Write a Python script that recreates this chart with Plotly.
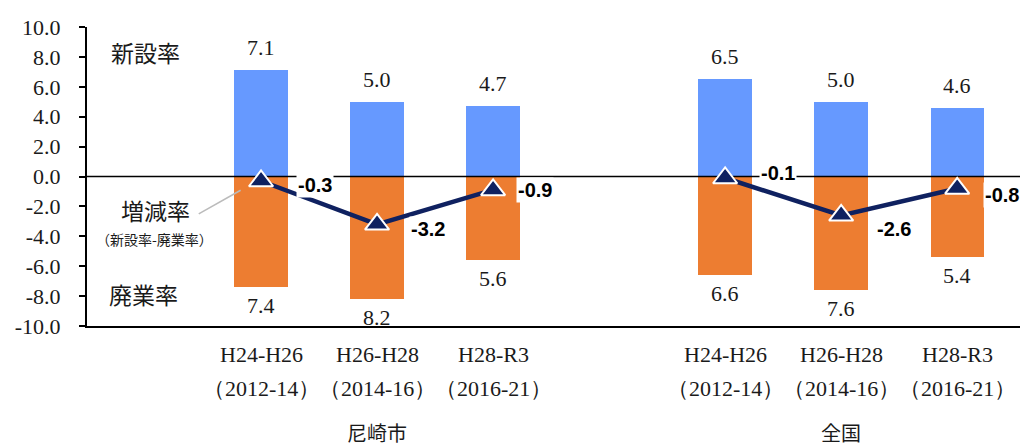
import plotly.graph_objects as go

# ---- data ----
periods = ["H24-H26", "H26-H28", "H28-R3"]
years = ["（2012-14）", "（2014-16）", "（2016-21）"]
groups = ["尼崎市", "全国"]
x_pos = [0, 1, 2, 4, 5, 6]          # slot 3 left empty between groups
open_rate = [7.1, 5.0, 4.7, 6.5, 5.0, 4.6]     # 新設率
close_rate = [7.4, 8.2, 5.6, 6.6, 7.6, 5.4]    # 廃業率
net_rate = [-0.3, -3.2, -0.9, -0.1, -2.6, -0.8]  # 増減率
y_ticks = [10, 8, 6, 4, 2, 0, -2, -4, -6, -8, -10]

# label placement offsets (pixels) for the net-rate labels
net_dx = [37, 34, 25, 36, 36, 28]
net_dy = [-4, -5, 0, 5, -14, -7]

BLUE = "#6699ff"
ORANGE = "#ed7d31"
NAVY = "#0f2160"
SERIF = "Liberation Serif, DejaVu Serif, serif"
JP = "Noto Sans CJK JP, sans-serif"
BOLD = "Liberation Sans, Arial, sans-serif"
TXT = "#1a1a1a"

XR = [-1.5, 6.55]

fig = go.Figure()
fig.add_trace(go.Bar(x=x_pos, y=open_rate, marker_color=BLUE, width=0.46,
                     marker_line_width=0, showlegend=False))
fig.add_trace(go.Bar(x=x_pos, y=[-v for v in close_rate], marker_color=ORANGE,
                     width=0.46, marker_line_width=0, showlegend=False))
# zero reference line
fig.add_trace(go.Scatter(x=XR, y=[0, 0], mode="lines",
                         line=dict(color="black", width=1.5), showlegend=False,
                         hoverinfo="skip"))
# net rate lines per group
for g in range(2):
    sl = slice(3 * g, 3 * g + 3)
    fig.add_trace(go.Scatter(
        x=x_pos[sl], y=net_rate[sl], mode="lines+markers",
        line=dict(color=NAVY, width=4.5),
        marker=dict(symbol="triangle-up", size=21, color=NAVY,
                    line=dict(color="white", width=2)),
        showlegend=False))

ann = []
for i, (x, o, c, n) in enumerate(zip(x_pos, open_rate, close_rate, net_rate)):
    ann.append(dict(x=x, y=o, text=f"{o:.1f}", showarrow=False, yanchor="bottom",
                    yshift=8, font=dict(family=SERIF, size=22, color=TXT)))
    ann.append(dict(x=x, y=-c, text=f"{c:.1f}", showarrow=False, yanchor="top",
                    yshift=-4, font=dict(family=SERIF, size=22, color=TXT)))
    ann.append(dict(x=x, y=n, text=f"<b>{n:.1f}</b>", showarrow=False,
                    xanchor="left", xshift=net_dx[i] - 2, yshift=net_dy[i],
                    bgcolor="white", borderpad=1,
                    font=dict(family=BOLD, size=20, color="black")))

for g in range(2):
    for i in range(3):
        x = x_pos[3 * g + i]
        ann.append(dict(x=x, xref="x", y=-0.095, yref="paper", yanchor="middle",
                        text=periods[i], showarrow=False,
                        font=dict(family=SERIF, size=22, color=TXT)))
        ann.append(dict(x=x, xref="x", y=-0.21, yref="paper", yanchor="middle",
                        text=years[i], showarrow=False,
                        font=dict(family=SERIF, size=22, color=TXT)))
    ann.append(dict(x=x_pos[3 * g + 1], xref="x", y=-0.355, yref="paper",
                    yanchor="middle", text=groups[g], showarrow=False,
                    font=dict(family=JP, size=20, color=TXT)))

# left side series labels
ann.append(dict(x=-1.0, y=8.36, text="新設率", showarrow=False,
                font=dict(family=JP, size=23, color=TXT)))
ann.append(dict(x=-0.907, y=-2.24, text="増減率", showarrow=False,
                font=dict(family=JP, size=23, color=TXT)))
ann.append(dict(x=-0.92, y=-4.2, text="（新設率-廃業率）", showarrow=False,
                font=dict(family=JP, size=14, color=TXT)))
ann.append(dict(x=-1.01, y=-7.83, text="廃業率", showarrow=False,
                font=dict(family=JP, size=23, color=TXT)))

fig.add_shape(type="line", xref="x", yref="y", x0=-0.537, y0=-2.5,
              x1=-0.176, y1=-0.92, line=dict(color="#bbbbbb", width=1.5))

fig.update_layout(
    width=1020, height=439,
    margin=dict(l=77, r=7, t=14, b=121),
    plot_bgcolor="white", paper_bgcolor="white",
    bargap=0, barmode="overlay",
    annotations=ann,
    xaxis=dict(range=XR, showticklabels=False, showgrid=False, zeroline=False,
               showline=True, linecolor="black", linewidth=2, ticks=""),
    yaxis=dict(range=[-10, 10], tickvals=y_ticks,
               ticktext=[f"{v:.1f}" for v in y_ticks],
               showgrid=False, zeroline=False, showline=True,
               linecolor="black", linewidth=2, ticks="outside", ticklen=6,
               tickcolor="black", tickwidth=1.5, ticklabelstandoff=14,
               tickfont=dict(family=SERIF, size=22, color=TXT)),
)

fig.write_html("out.html")
